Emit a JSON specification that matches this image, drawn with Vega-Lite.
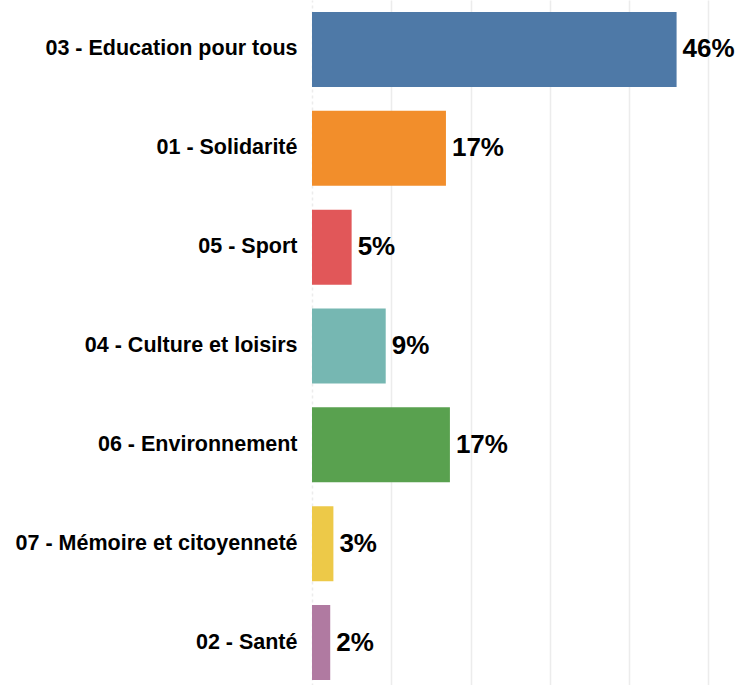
{
  "$schema": "https://vega.github.io/schema/vega-lite/v6.json",
  "autosize": "none",
  "width": 428,
  "height": 692,
  "padding": {"left": 312, "top": 0, "right": 0, "bottom": 0},
  "background": "white",
  "config": {"view": {"stroke": null}},
  "data": {
    "values": [
      {"domaine": "03 - Education pour tous", "part": 0.46},
      {"domaine": "01 - Solidarité", "part": 0.169},
      {"domaine": "05 - Sport", "part": 0.05},
      {"domaine": "04 - Culture et loisirs", "part": 0.093},
      {"domaine": "06 - Environnement", "part": 0.174},
      {"domaine": "07 - Mémoire et citoyenneté", "part": 0.027},
      {"domaine": "02 - Santé", "part": 0.023}
    ]
  },
  "encoding": {
    "y": {
      "field": "domaine", "type": "nominal", "sort": null,
      "scale": {"paddingInner": 0.241, "paddingOuter": 0.121},
      "axis": {"title": null, "domain": false, "ticks": false, "labelPadding": 15,
               "labelFont": "Liberation Sans", "labelFontWeight": "bold", "labelFontSize": 21.5,
               "labelColor": "#000000", "labelLimit": 400}
    },
    "x": {
      "field": "part", "type": "quantitative",
      "scale": {"domain": [0, 0.54], "nice": false},
      "axis": {"title": null, "labels": false, "ticks": false, "domain": false,
               "values": [0, 0.1, 0.2, 0.3, 0.4, 0.5],
               "grid": true, "gridColor": "#ececec", "gridWidth": 1.5,
               "gridDash": {"condition": {"test": "datum.value === 0", "value": [3, 3]}, "value": []}}
    }
  },
  "layer": [
    {
      "mark": {"type": "bar"},
      "encoding": {
        "color": {
          "field": "domaine", "type": "nominal", "legend": null,
          "scale": {
            "domain": ["03 - Education pour tous", "01 - Solidarité", "05 - Sport", "04 - Culture et loisirs", "06 - Environnement", "07 - Mémoire et citoyenneté", "02 - Santé"],
            "range": ["#4e79a7", "#f28e2b", "#e15759", "#76b7b2", "#59a14f", "#edc948", "#b07aa1"]
          }
        }
      }
    },
    {
      "mark": {"type": "text", "align": "left", "baseline": "middle", "dx": 6,
               "font": "Liberation Sans", "fontWeight": "bold", "fontSize": 26, "color": "#000000"},
      "encoding": {
        "text": {"field": "part", "type": "quantitative", "format": ".0%"}
      }
    }
  ]
}
